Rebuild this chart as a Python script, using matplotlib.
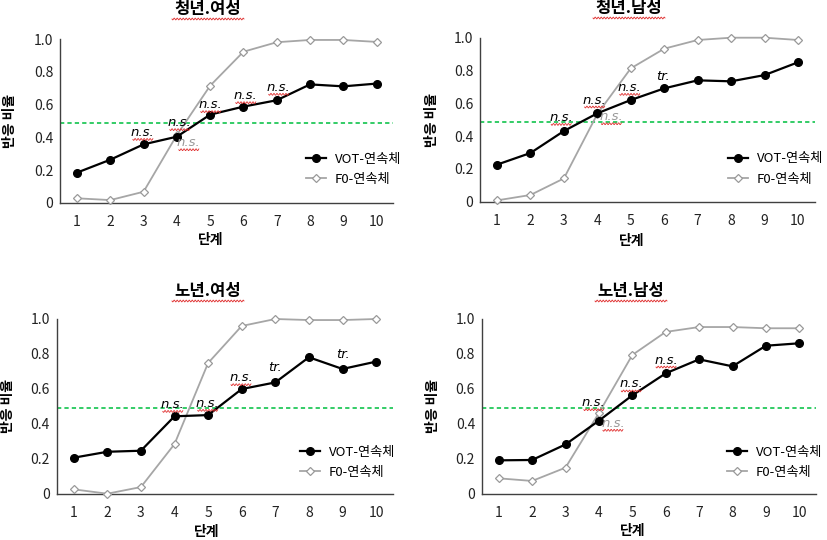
import numpy as np
import matplotlib.pyplot as plt

plt.rcParams['font.family'] = ['Noto Sans CJK KR', 'DejaVu Sans']

steps = np.arange(1, 11)
titles = ['청년.여성', '청년.남성', '노년.여성', '노년.남성']

# VOT-연속체 / F0-연속체 반응 비율
vot_yf = [0.184, 0.263, 0.357, 0.404, 0.539, 0.588, 0.627, 0.724, 0.712, 0.729]
f0_yf = [0.027, 0.016, 0.067, 0.414, 0.716, 0.924, 0.982, 0.996, 0.996, 0.984]
vot_ym = [0.226, 0.297, 0.431, 0.539, 0.620, 0.691, 0.740, 0.734, 0.772, 0.850]
f0_ym = [0.008, 0.041, 0.142, 0.535, 0.813, 0.933, 0.986, 1.0, 1.0, 0.986]
vot_of = [0.206, 0.240, 0.246, 0.443, 0.450, 0.599, 0.637, 0.781, 0.714, 0.756]
f0_of = [0.025, 0.0, 0.038, 0.284, 0.748, 0.960, 1.0, 0.994, 0.994, 1.0]
vot_om = [0.191, 0.193, 0.282, 0.418, 0.563, 0.689, 0.769, 0.729, 0.847, 0.861]
f0_om = [0.088, 0.073, 0.149, 0.462, 0.794, 0.926, 0.954, 0.954, 0.947, 0.947]
vot_all = [vot_yf, vot_ym, vot_of, vot_om]
f0_all = [f0_yf, f0_ym, f0_of, f0_om]
cutoff = [0.49, 0.487, 0.489, 0.491]

# 유의성 표시 (x, y, 글자, 회색 여부)
notes_yf = [(2.98, 0.43, 'n.s.', 0), (4.09, 0.49, 'n.s.', 0), (4.36, 0.367, 'n.s.', 1),
            (5.02, 0.60, 'n.s.', 0), (6.07, 0.655, 'n.s.', 0), (7.06, 0.706, 'n.s.', 0)]
notes_ym = [(2.92, 0.514, 'n.s.', 0), (3.92, 0.62, 'n.s.', 0), (4.42, 0.518, 'n.s.', 1),
            (4.97, 0.697, 'n.s.', 0), (5.97, 0.766, 'tr.', 0)]
notes_of = [(3.95, 0.511, 'n.s.', 0), (4.99, 0.517, 'n.s.', 0), (5.98, 0.664, 'n.s.', 0),
            (6.99, 0.723, 'tr.', 0), (9.03, 0.794, 'tr.', 0)]
notes_om = [(3.85, 0.521, 'n.s.', 0), (4.42, 0.403, 'n.s.', 1), (4.97, 0.628, 'n.s.', 0),
            (6.01, 0.765, 'n.s.', 0)]
notes_all = [notes_yf, notes_ym, notes_of, notes_om]

W, H = 827, 540
# 축 위치 (픽셀): left, top, width, height
boxes = [(60.3, 39.3, 333, 163.4), (480.3, 37.7, 334.4, 164),
         (56.9, 319, 336, 174.7), (482, 319, 334, 174.7)]
title_pos = [(208, 9), (629, 8), (208, 291), (631, 291)]
xlabel_pos = [(211, 240), (632, 241), (207, 532), (633, 531)]
ylabel_x = [10, 432, 8, 433]
leg_anchor = [(0.738, 0.204), (0.741, 0.2), (0.723, 0.179), (0.733, 0.18)]

fig = plt.figure(figsize=(8.27, 5.4), dpi=100)


def squiggle(x0, y0, width, color='#e03030'):
    # 맞춤법 검사 물결선 (픽셀 좌표)
    t = np.linspace(0, width, int(width * 3))
    w = np.sin(t * 2 * np.pi / 3.0) * 0.9
    fig.add_artist(plt.Line2D((x0 + t) / W, 1 - (y0 + w) / H, color=color, lw=0.6))


for i in range(4):
    l, t, w, h = boxes[i]
    ax = fig.add_axes([l / W, 1 - (t + h) / H, w / W, h / H])
    ax.set_xlim(0.5, 10.5)
    ax.set_ylim(0, 1.0)
    ax.axhline(cutoff[i], color='#33cc66', lw=1.4, ls=(0, (2.2, 1.6)), zorder=1)
    ax.plot(steps, vot_all[i], color='black', lw=1.6, marker='o', ms=5.5,
            label='VOT-연속체', clip_on=False, zorder=4)
    ax.plot(steps, f0_all[i], color='#a6a6a6', lw=1.3, marker='D', ms=4.5,
            mfc='white', mec='#999999', mew=0.9, label='F0-연속체', clip_on=False, zorder=3)
    for spine in ['top', 'right']:
        ax.spines[spine].set_visible(False)
    for spine in ['left', 'bottom']:
        ax.spines[spine].set_color('#404040')
        ax.spines[spine].set_linewidth(1.0)
    ax.set_xticks(steps)
    ax.set_yticks([0, 0.2, 0.4, 0.6, 0.8, 1.0])
    ax.set_yticklabels(['0', '0.2', '0.4', '0.6', '0.8', '1.0'])
    ax.tick_params(length=0, labelsize=10, colors='#222222', pad=5)
    ax.tick_params(axis='x', pad=9)
    ax.legend(loc='center left', bbox_to_anchor=leg_anchor[i], frameon=False,
              fontsize=9.5, borderaxespad=0, borderpad=0, handlelength=1.5,
              handletextpad=0.7, labelspacing=0.55)
    for x, y, s, grey in notes_all[i]:
        c = '#999999' if grey else 'black'
        ax.text(x, y, s, ha='center', va='center', fontsize=9.5, style='italic',
                color=c, zorder=5, family=['DejaVu Sans'])
        if s == 'n.s.':
            px, py = ax.transData.transform((x, y))
            squiggle(px - 10, H - py + 7, 20)
    tx, ty = title_pos[i]
    fig.text(tx / W, 1 - ty / H, titles[i], ha='center', va='center',
             fontsize=12, fontweight='bold')
    squiggle(tx - 36, ty + 10, 72)
    fig.text(xlabel_pos[i][0] / W, 1 - xlabel_pos[i][1] / H, '단계', ha='center',
             va='center', fontsize=10, fontweight='bold')
    fig.text(ylabel_x[i] / W, 1 - (t + h / 2) / H, '반응 비율', ha='center',
             va='center', fontsize=10, fontweight='bold', rotation=90)

fig.savefig('out.png', dpi=100)
